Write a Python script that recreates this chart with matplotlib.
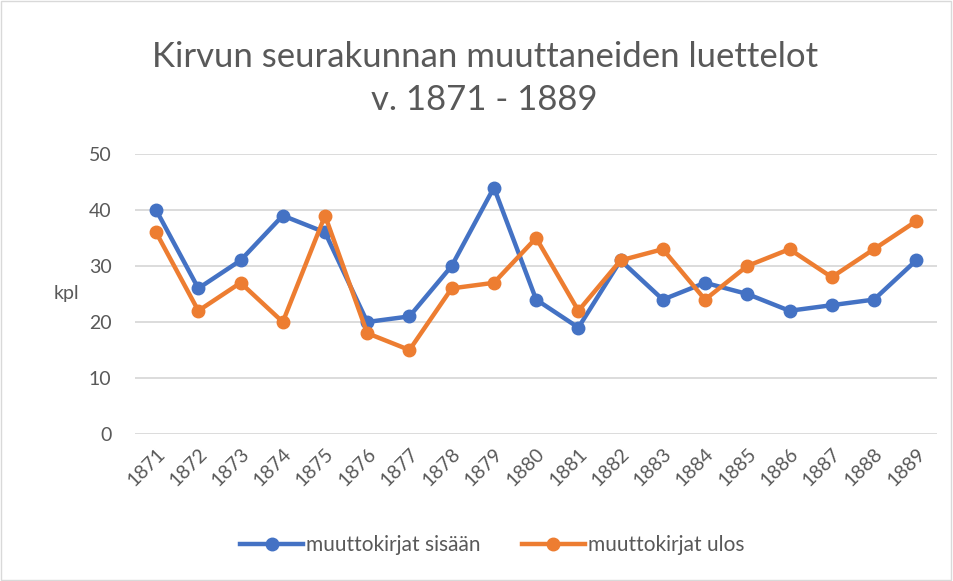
import matplotlib.pyplot as plt
from matplotlib.patches import Rectangle

plt.rcParams['font.family'] = ['Lato', 'DejaVu Sans']

vuodet = [str(v) for v in range(1871, 1890)]
sisaan = [40, 26, 31, 39, 36, 20, 21, 30, 44, 24, 19, 31, 24, 27, 25, 22, 23, 24, 31]
ulos = [36, 22, 27, 20, 39, 18, 15, 26, 27, 35, 22, 31, 33, 24, 30, 33, 28, 33, 38]

sininen = '#4472C4'
oranssi = '#ED7D31'
harmaa = '#595959'

fig = plt.figure(figsize=(9.54, 5.81), dpi=100)
ax = fig.add_axes([0.1415, 0.253, 0.841, 0.482])

x = range(len(vuodet))
ax.plot(x, sisaan, color=sininen, lw=3.2, marker='o', ms=9, label='muuttokirjat sisään', zorder=3)
ax.plot(x, ulos, color=oranssi, lw=3.2, marker='o', ms=9, label='muuttokirjat ulos', zorder=3)

ax.set_xlim(-0.5, len(vuodet) - 0.5)
ax.set_ylim(0, 50)
ax.set_yticks(range(0, 51, 10))
ax.set_xticks(list(x))
ax.set_xticklabels(vuodet, rotation=45, ha='right', rotation_mode='anchor')
ax.tick_params(axis='both', length=0, colors=harmaa, labelsize=14)
ax.tick_params(axis='y', pad=17)
ax.tick_params(axis='x', pad=8)
ax.grid(axis='y', color='#D9D9D9', lw=1.3)
ax.set_axisbelow(True)
for s in ax.spines.values():
    s.set_visible(False)

ax.set_ylabel('kpl', rotation=0, color=harmaa, fontsize=14, labelpad=16, va='center')

fig.text(0.508, 0.865, 'Kirvun seurakunnan muuttaneiden luettelot\nv. 1871 - 1889',
         ha='center', va='center', fontsize=25, color=harmaa, linespacing=1.42)

ax.legend(loc='center', bbox_to_anchor=(0.516, 0.062), bbox_transform=fig.transFigure,
          ncol=2, frameon=False, fontsize=15, labelcolor=harmaa, handlelength=3.0,
          handletextpad=0.15, columnspacing=2.0)

fig.patches.append(Rectangle((0.001, 0.002), 0.996, 0.996, transform=fig.transFigure,
                             fill=False, edgecolor='#D9D9D9', lw=1))

fig.savefig('out.png', dpi=100)
